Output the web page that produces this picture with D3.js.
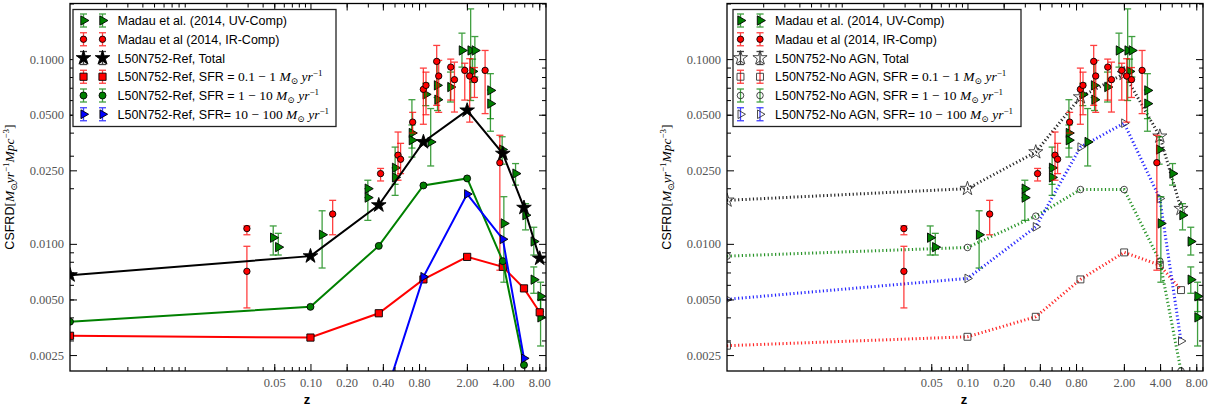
<!DOCTYPE html>
<html lang="en">
<head>
  <meta charset="UTF-8">
  <title>CSFRD vs redshift</title>
  <script src="https://cdnjs.cloudflare.com/ajax/libs/d3/7.8.5/d3.min.js"></script>
  <style>
    body { margin: 0; background: #fff; }
    svg { display: block; }
    .tlab { font-family: "Liberation Serif", "DejaVu Serif", serif; font-size: 12.5px; fill: #555; }
    .leg { font-family: "Liberation Sans", Arial, sans-serif; font-size: 12.5px; fill: #000; }
  </style>
</head>
<body>
<svg id="chart" width="1215" height="412"></svg>
<script>
// simulation output redshifts (z=0 is put on the left edge of the log axis)
const zModel = [0.001, 0.1, 0.37, 0.87, 2.01, 3.98, 5.97, 8.07];

// L50N752-Ref
const refTotal = [0.00677, 0.00858, 0.0162, 0.0356, 0.0528, 0.0308, 0.0157, 0.00834];
const refLow   = [0.00318, 0.00311, 0.00421, 0.00642, 0.0085, 0.00751, 0.00574, 0.00426];
const refMid   = [0.00379, 0.00456, 0.00975, 0.0207, 0.0226, 0.00806, 0.00221, null];
const refHigh  = [null, null, 0.00117, 0.00663, 0.0186, 0.0106, 0.0024, null];

// L50N752-No AGN
const noTotal = [0.0172, 0.0199, 0.0314, 0.0623, 0.0834, 0.0382, 0.0155, null];
const noLow   = [0.00281, 0.00314, 0.00403, 0.00642, 0.00899, 0.00767, 0.00562, null];
const noMid   = [0.00858, 0.00956, 0.01412, 0.01968, 0.01968, 0.00806, 0.00205, null];
const noHigh  = [0.00501, 0.0065, 0.01236, 0.0334, 0.045, 0.0176, 0.00298, null];

// Madau et al. 2014, UV
const uvZ   = [0.049, 0.054, 0.125, 0.30, 0.30, 0.506, 0.506, 0.698, 0.698, 1.0, 0.91, 1.13, 1.14, 1.46, 1.82, 2.15, 2.33, 2.23, 3.14, 3.14, 3.93, 4.06, 5.08, 6.15, 7.2, 7.2, 8.2, 8.2];
const uvVal = [0.0108, 0.0096, 0.0112, 0.0199, 0.0178, 0.0258, 0.0229, 0.0398, 0.0364, 0.0356, 0.0644, 0.0721, 0.0603, 0.0706, 0.1114, 0.1114, 0.1114, 0.0858, 0.0677, 0.0574, 0.0324, 0.0129, 0.0240, 0.0143, 0.0103, 0.0064, 0.0052, 0.0040];
const uvLo  = [0.0087, 0.0087, 0.0074, 0.0178, 0.0134, 0.0210, 0.0183, 0.0330, 0.0295, 0.0264, 0.0560, 0.0620, 0.0527, 0.0586, 0.0905, 0.0597, 0.0800, 0.0750, 0.0476, 0.0407, 0.0270, 0.0062, 0.0208, 0.0119, 0.0087, 0.0054, 0.0043, 0.0028];
const uvHi  = [0.0125, 0.0114, 0.0151, 0.0221, 0.0199, 0.0334, 0.0258, 0.0603, 0.0440, 0.0540, 0.0740, 0.0965, 0.0720, 0.0851, 0.1382, 0.1870, 0.1325, 0.1000, 0.0834, 0.0680, 0.0380, 0.0180, 0.0272, 0.0165, 0.0123, 0.0075, 0.0062, 0.0050];

// Madau et al. 2014, IR
const irZ   = [0.0296, 0.0296, 0.153, 0.383, 0.535, 0.562, 0.708, 0.869, 0.914, 1.122, 1.166, 1.468, 1.576, 1.92, 2.11, 2.313, 2.835, 3.76];
const irVal = [0.0121, 0.0071, 0.0145, 0.0240, 0.0302, 0.0287, 0.0456, 0.0686, 0.0721, 0.0972, 0.0810, 0.0905, 0.0774, 0.0869, 0.0810, 0.0774, 0.0869, 0.0275];
const irLo  = [0.0112, 0.0045, 0.0112, 0.0219, 0.0221, 0.0240, 0.0398, 0.0444, 0.0500, 0.0562, 0.0515, 0.0600, 0.0517, 0.0600, 0.0456, 0.0620, 0.0507, 0.0072];
const irHi  = [0.0125, 0.0097, 0.0172, 0.0256, 0.0403, 0.0350, 0.0515, 0.0894, 0.0850, 0.1186, 0.0984, 0.1000, 0.0963, 0.0950, 0.1005, 0.0900, 0.1114, 0.0387];

// ticks
const xTickValues = [0.05, 0.1, 0.2, 0.4, 0.8, 2, 4, 8];
const xTickLabels = ["0.05", "0.10", "0.20", "0.40", "0.80", "2.00", "4.00", "8.00"];
const yTickValues = [0.1, 0.05, 0.025, 0.01, 0.005, 0.0025];
const yTickLabels = ["0.1000", "0.0500", "0.0250", "0.0100", "0.0050", "0.0025"];

const xDomain = [0.001, 9.1];
const yDomain = [0.00205, 0.2];
const plotW = 476, plotTop = 3.5, plotBottom = 371;

const svg = d3.select("#chart");

// marker styles
const sty = {
  uv:      { shape: "tri",    size: 38, fill: "green", stroke: "#000", err: "green" },
  ir:      { shape: "circle", size: 32, fill: "red",   stroke: "#000", err: "red" },
  refTot:  { shape: "star",   size: 66, fill: "#000",  stroke: "#000", err: "#000" },
  refLow:  { shape: "square", size: 52, fill: "red",   stroke: "#000", err: "red" },
  refMid:  { shape: "circle", size: 38, fill: "green", stroke: "#000", err: "green" },
  refHigh: { shape: "tri",    size: 34, fill: "blue",  stroke: "#000", err: "blue" },
  noTot:   { shape: "star",   size: 62, fill: "none",  stroke: "#333", err: "#000" },
  noLow:   { shape: "square", size: 48, fill: "none",  stroke: "#333", err: "red" },
  noMid:   { shape: "circle", size: 34, fill: "none",  stroke: "#333", err: "green" },
  noHigh:  { shape: "tri",    size: 32, fill: "none",  stroke: "#333", err: "blue" }
};

function symbolPath(s) {
  const t = { tri: d3.symbolTriangle, circle: d3.symbolCircle, star: d3.symbolStar, square: d3.symbolSquare }[s.shape];
  return d3.symbol(t, s.size)();
}

function marker(g, key, cx, cy) {
  const s = sty[key];
  g.append("path")
    .attr("d", symbolPath(s))
    .attr("transform", `translate(${cx},${cy})` + (s.shape === "tri" ? " rotate(90)" : ""))
    .attr("fill", s.fill)
    .attr("stroke", s.stroke)
    .attr("stroke-width", 0.9);
}

function errBar(g, color, cx, y1, y2) {
  const e = g.append("g").attr("stroke", color).attr("stroke-width", 1.3).attr("opacity", 0.75);
  e.append("line").attr("x1", cx).attr("x2", cx).attr("y1", y1).attr("y2", y2);
  e.append("line").attr("x1", cx - 3.5).attr("x2", cx + 3.5).attr("y1", y1).attr("y2", y1);
  e.append("line").attr("x1", cx - 3.5).attr("x2", cx + 3.5).attr("y1", y2).attr("y2", y2);
}

// text with tspans for the math bits
function rich(sel, parts) {
  let shift = 0;
  parts.forEach(p => {
    const ts = sel.append("tspan").text(p.t);
    const target = p.sub ? 3 : (p.sup ? -5 : 0);
    if (target !== shift) { ts.attr("dy", target - shift); shift = target; }
    if (p.m) ts.style("font-family", '"Liberation Serif", "DejaVu Serif", serif')
               .style("font-size", (p.sub || p.sup) ? "9px" : "13.5px");
    if (p.it) ts.style("font-style", "italic");
  });
}

const unit = [{ t: " M", m: 1, it: 1 }, { t: "⊙", m: 1, sub: 1 }, { t: " yr", m: 1, it: 1 }, { t: "−1", m: 1, sup: 1 }];

function drawObs(g, x, y) {
  uvZ.forEach((z, i) => errBar(g, sty.uv.err, x(z), y(uvHi[i]), y(uvLo[i])));
  uvZ.forEach((z, i) => marker(g, "uv", x(z), y(uvVal[i])));
  irZ.forEach((z, i) => errBar(g, sty.ir.err, x(z), y(irHi[i]), y(irLo[i])));
  irZ.forEach((z, i) => marker(g, "ir", x(z), y(irVal[i])));
}

function drawModel(g, x, y, vals, key, color, dotted) {
  const pts = zModel.map((z, i) => [z, vals[i]]);
  const line = d3.line().defined(d => d[1] != null).x(d => x(d[0])).y(d => y(d[1]));
  const p = g.append("path").datum(pts)
    .attr("fill", "none").attr("stroke", color).attr("d", line);
  if (dotted) p.attr("stroke-width", 3).attr("stroke-dasharray", "1.2,2.5").attr("opacity", 0.85);
  else p.attr("stroke-width", 2);
  pts.filter(d => d[1] != null).forEach(d => marker(g, key, x(d[0]), y(d[1])));
}

function drawPanel(left, cfg) {
  const x = d3.scaleLog().domain(xDomain).range([left, left + plotW]);
  const y = d3.scaleLog().domain(yDomain).range([plotBottom, plotTop]);
  const g = svg.append("g");

  const clipId = "clip" + left;
  g.append("clipPath").attr("id", clipId).append("rect")
    .attr("x", left).attr("y", plotTop).attr("width", plotW).attr("height", plotBottom - plotTop);
  const data = g.append("g").attr("clip-path", `url(#${clipId})`);

  if (cfg.obsFirst) drawObs(data, x, y);
  cfg.models.forEach(m => drawModel(data, x, y, m.vals, m.key, m.color, cfg.dotted));
  if (!cfg.obsFirst) drawObs(data, x, y);

  // minor ticks from the scale's own log ticks
  const minorX = x.ticks().filter(v => Math.abs(Math.log10(v) - Math.round(Math.log10(v))) > 1e-6);
  const minorY = y.ticks().filter(v => Math.abs(Math.log10(v) - Math.round(Math.log10(v))) > 1e-6);

  const axes = g.append("g");
  axes.append("g").attr("transform", `translate(0,${plotBottom})`)
    .call(d3.axisBottom(x).tickValues(minorX).tickSizeInner(-4).tickSizeOuter(0).tickFormat(""));
  axes.append("g").attr("transform", `translate(0,${plotBottom})`)
    .call(d3.axisBottom(x).tickValues(xTickValues).tickSizeInner(-7).tickSizeOuter(0).tickPadding(7)
      .tickFormat((d, i) => xTickLabels[i]));
  axes.append("g").attr("transform", `translate(0,${plotTop})`)
    .call(d3.axisTop(x).tickValues(minorX).tickSizeInner(-4).tickSizeOuter(0).tickFormat(""));
  axes.append("g").attr("transform", `translate(0,${plotTop})`)
    .call(d3.axisTop(x).tickValues(xTickValues).tickSizeInner(-7).tickSizeOuter(0).tickFormat(""));
  axes.append("g").attr("transform", `translate(${left},0)`)
    .call(d3.axisLeft(y).tickValues(minorY).tickSizeInner(-4).tickSizeOuter(0).tickFormat(""));
  axes.append("g").attr("transform", `translate(${left},0)`)
    .call(d3.axisLeft(y).tickValues(yTickValues).tickSizeInner(-7).tickSizeOuter(0).tickPadding(6)
      .tickFormat((d, i) => yTickLabels[i]));
  axes.append("g").attr("transform", `translate(${left + plotW},0)`)
    .call(d3.axisRight(y).tickValues(minorY).tickSizeInner(-4).tickSizeOuter(0).tickFormat(""));
  axes.append("g").attr("transform", `translate(${left + plotW},0)`)
    .call(d3.axisRight(y).tickValues(yTickValues).tickSizeInner(-7).tickSizeOuter(0).tickFormat(""));
  axes.selectAll(".domain").remove();
  axes.selectAll(".tick line").attr("stroke", "#000").attr("stroke-width", 1);
  axes.selectAll(".tick text").attr("class", "tlab").attr("fill", null);

  g.append("rect").attr("x", left).attr("y", plotTop).attr("width", plotW).attr("height", plotBottom - plotTop)
    .attr("fill", "none").attr("stroke", "#000").attr("stroke-width", 1.3);

  // axis titles
  g.append("text").attr("x", left + plotW / 2 - 1).attr("y", 404).attr("text-anchor", "middle")
    .style("font-family", '"Liberation Sans", Arial, sans-serif').style("font-size", "13px")
    .style("font-weight", "bold").text("z");
  const yl = g.append("text").attr("class", "leg").attr("text-anchor", "middle")
    .attr("transform", `translate(${left - 56},187) rotate(-90)`);
  rich(yl, [{ t: "CSFRD" }, { t: "[", m: 1 }, { t: "M", m: 1, it: 1 }, { t: "⊙", m: 1, sub: 1 },
    { t: "yr", m: 1, it: 1 }, { t: "−1", m: 1, sup: 1 }, { t: "Mpc", m: 1, it: 1 }, { t: "−3", m: 1, sup: 1 }, { t: "]", m: 1 }]);

  // legend
  const lg = g.append("g");
  const L = cfg.legend;
  lg.append("rect").attr("x", L.x).attr("y", 9.5).attr("width", L.w).attr("height", 117)
    .attr("fill", "#fff").attr("stroke", "#222").attr("stroke-width", 1.3);
  L.rows.forEach((r, i) => {
    const cy = 20.5 + i * 18.75;
    [L.m1, L.m2].forEach(mx => {
      errBar(lg, sty[r.key].err, mx, cy - 6.5, cy + 6.5);
      marker(lg, r.key, mx, cy);
    });
    const t = lg.append("text").attr("class", "leg").attr("x", L.tx).attr("y", cy + 4.5);
    rich(t, r.parts);
  });
}

drawPanel(70, {
  obsFirst: true,
  dotted: false,
  models: [
    { vals: refTotal, key: "refTot", color: "#000" },
    { vals: refLow, key: "refLow", color: "red" },
    { vals: refMid, key: "refMid", color: "green" },
    { vals: refHigh, key: "refHigh", color: "blue" }
  ],
  legend: {
    x: 73, w: 263, m1: 83.5, m2: 102.5, tx: 117.5,
    rows: [
      { key: "uv", parts: [{ t: "Madau et al. (2014, UV-Comp)" }] },
      { key: "ir", parts: [{ t: "Madau et al (2014, IR-Comp)" }] },
      { key: "refTot", parts: [{ t: "L50N752-Ref, Total" }] },
      { key: "refLow", parts: [{ t: "L50N752-Ref, SFR = " }, { t: "0.1 − 1", m: 1 }].concat(unit) },
      { key: "refMid", parts: [{ t: "L50N752-Ref, SFR = " }, { t: "1 − 10", m: 1 }].concat(unit) },
      { key: "refHigh", parts: [{ t: "L50N752-Ref, SFR= " }, { t: "10 − 100", m: 1 }].concat(unit) }
    ]
  }
});

drawPanel(727, {
  obsFirst: false,
  dotted: true,
  models: [
    { vals: noTotal, key: "noTot", color: "#000" },
    { vals: noLow, key: "noLow", color: "red" },
    { vals: noMid, key: "noMid", color: "green" },
    { vals: noHigh, key: "noHigh", color: "blue" }
  ],
  legend: {
    x: 733, w: 288, m1: 740.5, m2: 760, tx: 775,
    rows: [
      { key: "uv", parts: [{ t: "Madau et al. (2014, UV-Comp)" }] },
      { key: "ir", parts: [{ t: "Madau et al (2014, IR-Comp)" }] },
      { key: "noTot", parts: [{ t: "L50N752-No AGN, Total" }] },
      { key: "noLow", parts: [{ t: "L50N752-No AGN, SFR = " }, { t: "0.1 − 1", m: 1 }].concat(unit) },
      { key: "noMid", parts: [{ t: "L50N752-No AGN, SFR = " }, { t: "1 − 10", m: 1 }].concat(unit) },
      { key: "noHigh", parts: [{ t: "L50N752-No AGN, SFR= " }, { t: "10 − 100", m: 1 }].concat(unit) }
    ]
  }
});
</script>
</body>
</html>
